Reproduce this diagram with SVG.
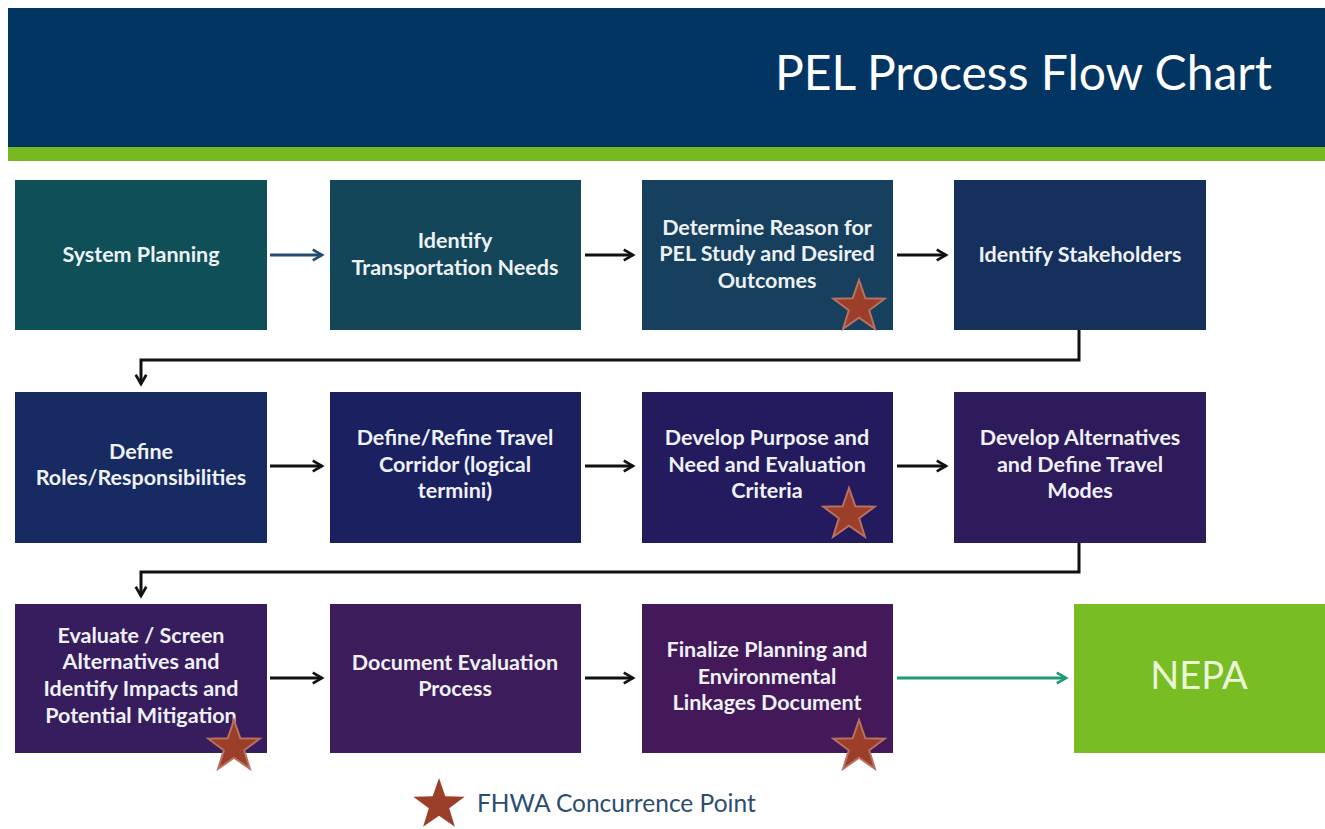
<svg xmlns="http://www.w3.org/2000/svg" width="1325" height="829" viewBox="0 0 1325 829">
  <style>
    .box-label { font-family: Lato, "Open Sans", sans-serif; font-weight: bold; font-size: 21.5px; fill: #eef1f6; text-anchor: middle; }
    .flow { fill: none; stroke: #111; stroke-width: 3; marker-end: url(#arrow-dark); }
    .star { fill: #9c3f2a; stroke: #b8715f; stroke-width: 2; }
  </style>
  <defs>
    <marker id="arrow-dark" viewBox="0 0 10 10" refX="8" refY="5" markerWidth="4.4" markerHeight="4.4" orient="auto" markerUnits="strokeWidth">
      <path d="M1,1 L8,5 L1,9" fill="none" stroke="#111" stroke-width="2"/>
    </marker>
    <marker id="arrow-blue" viewBox="0 0 10 10" refX="8" refY="5" markerWidth="4.4" markerHeight="4.4" orient="auto" markerUnits="strokeWidth">
      <path d="M1,1 L8,5 L1,9" fill="none" stroke="#244a6e" stroke-width="2"/>
    </marker>
    <marker id="arrow-green" viewBox="0 0 10 10" refX="8" refY="5" markerWidth="4.4" markerHeight="4.4" orient="auto" markerUnits="strokeWidth">
      <path d="M1,1 L8,5 L1,9" fill="none" stroke="#1f9a78" stroke-width="2"/>
    </marker>
    <polygon id="star" points="0,-27 6.3,-8.7 25.7,-8.3 10.2,3.3 15.9,21.8 0,10.8 -15.9,21.8 -10.2,3.3 -25.7,-8.3 -6.3,-8.7"/>
  </defs>

  <rect width="1325" height="829" fill="#ffffff"/>

  <!-- header banner -->
  <g id="header">
    <rect x="8" y="8" width="1317" height="140" fill="#033563"/>
    <rect x="8" y="147" width="1317" height="14" fill="#77b923"/>
    <text x="1272" y="90" text-anchor="end" font-family="Lato, 'Open Sans', sans-serif" font-size="48" fill="#ffffff">PEL Process Flow Chart</text>
  </g>

  <!-- connectors -->
  <g id="connectors">
    <line x1="270" y1="255" x2="322" y2="255" fill="none" stroke="#244a6e" stroke-width="3" marker-end="url(#arrow-blue)"/>
    <line class="flow" x1="585" y1="255" x2="633" y2="255"/>
    <line class="flow" x1="897" y1="255" x2="946" y2="255"/>
    <polyline class="flow" points="1079,330 1079,360 141,360 141,384"/>

    <line class="flow" x1="270" y1="466" x2="322" y2="466"/>
    <line class="flow" x1="585" y1="466" x2="633" y2="466"/>
    <line class="flow" x1="897" y1="466" x2="946" y2="466"/>
    <polyline class="flow" points="1079,543 1079,572 141,572 141,596"/>

    <line class="flow" x1="270" y1="678" x2="322" y2="678"/>
    <line class="flow" x1="585" y1="678" x2="633" y2="678"/>
    <line x1="897" y1="678" x2="1066" y2="678" fill="none" stroke="#1f9a78" stroke-width="3" marker-end="url(#arrow-green)"/>
  </g>

  <!-- row 1 -->
  <g id="system-planning">
    <rect x="15" y="180" width="252" height="150" fill="#0f4f57"/>
    <text class="box-label" x="141" y="262">System Planning</text>
  </g>
  <g id="identify-needs">
    <rect x="330" y="180" width="251" height="150" fill="#134658"/>
    <text class="box-label" x="455" y="248">Identify</text>
    <text class="box-label" x="455" y="275">Transportation Needs</text>
  </g>
  <g id="determine-reason">
    <rect x="642" y="180" width="251" height="150" fill="#16405e"/>
    <text class="box-label" x="767" y="235">Determine Reason for</text>
    <text class="box-label" x="767" y="261">PEL Study and Desired</text>
    <text class="box-label" x="767" y="288">Outcomes</text>
    <use href="#star" class="star" x="859" y="307"/>
  </g>
  <g id="identify-stakeholders">
    <rect x="954" y="180" width="252" height="150" fill="#16305d"/>
    <text class="box-label" x="1080" y="262">Identify Stakeholders</text>
  </g>

  <!-- row 2 -->
  <g id="define-roles">
    <rect x="15" y="392" width="252" height="151" fill="#172a62"/>
    <text class="box-label" x="141" y="459">Define</text>
    <text class="box-label" x="141" y="485">Roles/Responsibilities</text>
  </g>
  <g id="define-corridor">
    <rect x="330" y="392" width="251" height="151" fill="#1b2060"/>
    <text class="box-label" x="455" y="445">Define/Refine Travel</text>
    <text class="box-label" x="455" y="472">Corridor (logical</text>
    <text class="box-label" x="455" y="498">termini)</text>
  </g>
  <g id="purpose-need">
    <rect x="642" y="392" width="251" height="151" fill="#241a5e"/>
    <text class="box-label" x="767" y="445">Develop Purpose and</text>
    <text class="box-label" x="767" y="472">Need and Evaluation</text>
    <text class="box-label" x="767" y="498">Criteria</text>
    <use href="#star" class="star" x="849" y="515"/>
  </g>
  <g id="develop-alternatives">
    <rect x="954" y="392" width="252" height="151" fill="#2d1b5c"/>
    <text class="box-label" x="1080" y="445">Develop Alternatives</text>
    <text class="box-label" x="1080" y="472">and Define Travel</text>
    <text class="box-label" x="1080" y="498">Modes</text>
  </g>

  <!-- row 3 -->
  <g id="evaluate-screen">
    <rect x="15" y="604" width="252" height="149" fill="#371c5e"/>
    <text class="box-label" x="141" y="643">Evaluate / Screen</text>
    <text class="box-label" x="141" y="669">Alternatives and</text>
    <text class="box-label" x="141" y="696">Identify Impacts and</text>
    <text class="box-label" x="141" y="723">Potential Mitigation</text>
    <use href="#star" class="star" x="234" y="747"/>
  </g>
  <g id="document-evaluation">
    <rect x="330" y="604" width="251" height="149" fill="#3d1c5c"/>
    <text class="box-label" x="455" y="670">Document Evaluation</text>
    <text class="box-label" x="455" y="696">Process</text>
  </g>
  <g id="finalize-pel">
    <rect x="642" y="604" width="251" height="149" fill="#43195a"/>
    <text class="box-label" x="767" y="657">Finalize Planning and</text>
    <text class="box-label" x="767" y="684">Environmental</text>
    <text class="box-label" x="767" y="710">Linkages Document</text>
    <use href="#star" class="star" x="859" y="747"/>
  </g>
  <g id="nepa">
    <rect x="1074" y="604" width="251" height="149" fill="#78bd24"/>
    <text x="1199" y="689" text-anchor="middle" font-family="Lato, 'Open Sans', sans-serif" font-size="38" fill="#eaf6d6">NEPA</text>
  </g>

  <!-- legend -->
  <g id="legend">
    <use href="#star" class="star" x="439" y="805" style="stroke:none"/>
    <text x="477" y="812" font-family="Lato, 'Open Sans', sans-serif" font-size="24.5" fill="#2c4d6e">FHWA Concurrence Point</text>
  </g>
</svg>
